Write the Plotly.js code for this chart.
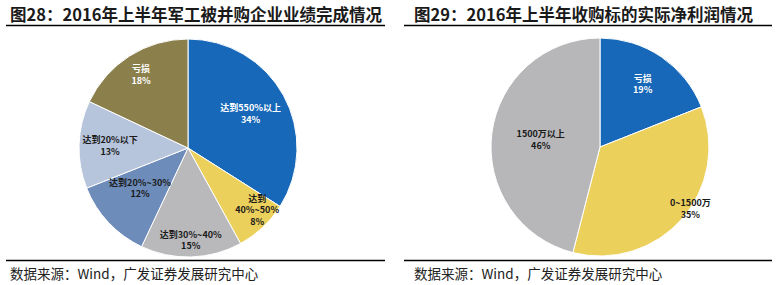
<!DOCTYPE html>
<html>
<head>
<meta charset="utf-8">
<script src="https://cdn.plot.ly/plotly-3.0.1.min.js"></script>
<style>
html,body{margin:0;padding:0;background:#fff;}
#chart{width:776px;height:285px;}
</style>
</head>
<body>
<div id="chart"></div>
<script>
// Left chart data
const leftTitle = '图28：2016年上半年军工被并购企业业绩完成情况';
const leftLabels = ['达到550%以上', '达到<br>40%~50%', '达到30%~40%', '达到20%~30%', '达到20%以下', '亏损'];
const leftValues = [34, 8, 15, 12, 13, 18];
const leftColors = ['#1768b8', '#ecd05c', '#b9b9bb', '#6d8cba', '#b7c5dc', '#8b7f4c'];
const leftTextColors = ['#ffffff', '#1a1a1a', '#1a1a1a', '#1a1a1a', '#1a1a1a', '#ffffff'];

// Right chart data
const rightTitle = '图29：2016年上半年收购标的实际净利润情况';
const rightLabels = ['亏损', '0~1500万', '1500万以上'];
const rightValues = [19, 35, 46];
const rightColors = ['#1768b8', '#ecd05c', '#b7b7b9'];
const rightTextColors = ['#ffffff', '#1a1a1a', '#1a1a1a'];

const sourceText = '数据来源：Wind，广发证券发展研究中心';

const W = 776, H = 285;
const px = v => v / W;
const py = v => 1 - v / H;

const cjk = '"Noto Sans CJK SC", "Noto Sans", sans-serif';
const TPL = '%{label}<br>%{percent:.0%}';

function domainOf(cx, cy, r) {
  return {x: [px(cx - r), px(cx + r)], y: [py(cy + r), py(cy - r)]};
}

// visible pie; shows inside labels only for slice indices in "own"
function pieTrace(labels, values, colors, textColors, cx, cy, r, own) {
  return {
    type: 'pie',
    labels: labels,
    values: values,
    sort: false,
    direction: 'clockwise',
    rotation: 0,
    marker: {colors: colors, line: {color: '#ffffff', width: 1}},
    texttemplate: TPL,
    textposition: labels.map((l, i) => own.includes(i) ? 'inside' : 'none'),
    insidetextorientation: 'horizontal',
    textfont: {family: cjk, size: 9, color: textColors, weight: 'bold'},
    showlegend: false,
    hoverinfo: 'none',
    domain: domainOf(cx, cy, r)
  };
}

// transparent copy of the same pie, used only to place some slice labels
function labelRing(labels, values, textColors, idxs, pos, cx, cy, R, turn) {
  const f = {family: cjk, size: 9, color: textColors, weight: 'bold'};
  return {
    type: 'pie',
    labels: labels,
    values: values,
    sort: false,
    direction: 'clockwise',
    rotation: turn || 0,
    marker: {colors: labels.map(() => 'rgba(0,0,0,0)'), line: {width: 0}},
    texttemplate: TPL,
    textposition: labels.map((l, i) => idxs.includes(i) ? pos : 'none'),
    insidetextorientation: 'horizontal',
    textfont: f,
    insidetextfont: f,
    outsidetextfont: f,
    automargin: false,
    showlegend: false,
    hoverinfo: 'none',
    domain: domainOf(cx, cy, R)
  };
}

const LC = [188, 148], RC = [600, 147], PR = 109;

const data = [
  pieTrace(leftLabels, leftValues, leftColors, leftTextColors, LC[0], LC[1], PR, [4]),
  pieTrace(rightLabels, rightValues, rightColors, rightTextColors, RC[0], RC[1], PR, []),
  labelRing(leftLabels, leftValues, leftTextColors, [0, 2, 5], 'inside', LC[0], LC[1], 134),
  labelRing(leftLabels, leftValues, leftTextColors, [3], 'outside', LC[0], LC[1], 31, -27),
  labelRing(leftLabels, leftValues, leftTextColors, [1], 'outside', LC[0], LC[1], 63, 6),
  labelRing(rightLabels, rightValues, rightTextColors, [0, 2], 'inside', RC[0], RC[1], 119),
  labelRing(rightLabels, rightValues, rightTextColors, [1], 'outside', RC[0], RC[1], 85)
];

const lineStyle = {color: '#000000', width: 1.5};
const layout = {
  width: W, height: H,
  margin: {l: 0, r: 0, t: 0, b: 0},
  paper_bgcolor: '#ffffff',
  plot_bgcolor: '#ffffff',
  showlegend: false,
  shapes: [
    {type: 'line', xref: 'paper', yref: 'paper', x0: px(6), x1: px(385), y0: py(25.5), y1: py(25.5), line: lineStyle},
    {type: 'line', xref: 'paper', yref: 'paper', x0: px(6), x1: px(385), y0: py(260.5), y1: py(260.5), line: lineStyle},
    {type: 'line', xref: 'paper', yref: 'paper', x0: px(404), x1: px(772), y0: py(25.5), y1: py(25.5), line: lineStyle},
    {type: 'line', xref: 'paper', yref: 'paper', x0: px(404), x1: px(772), y0: py(260.5), y1: py(260.5), line: lineStyle}
  ],
  annotations: [
    {text: leftTitle, xref: 'paper', yref: 'paper', x: px(8), y: py(14), xanchor: 'left', yanchor: 'middle', showarrow: false,
     font: {family: cjk, size: 16.5, color: '#1a1a1a', weight: 'bold'}},
    {text: rightTitle, xref: 'paper', yref: 'paper', x: px(412), y: py(14), xanchor: 'left', yanchor: 'middle', showarrow: false,
     font: {family: cjk, size: 16.5, color: '#1a1a1a', weight: 'bold'}},
    {text: sourceText, xref: 'paper', yref: 'paper', x: px(8), y: py(273), xanchor: 'left', yanchor: 'middle', showarrow: false,
     font: {family: cjk, size: 13.5, color: '#222222'}},
    {text: sourceText, xref: 'paper', yref: 'paper', x: px(412), y: py(273), xanchor: 'left', yanchor: 'middle', showarrow: false,
     font: {family: cjk, size: 13.5, color: '#222222'}}
  ]
};

Plotly.newPlot('chart', data, layout, {displayModeBar: false, staticPlot: true});
</script>
</body>
</html>
